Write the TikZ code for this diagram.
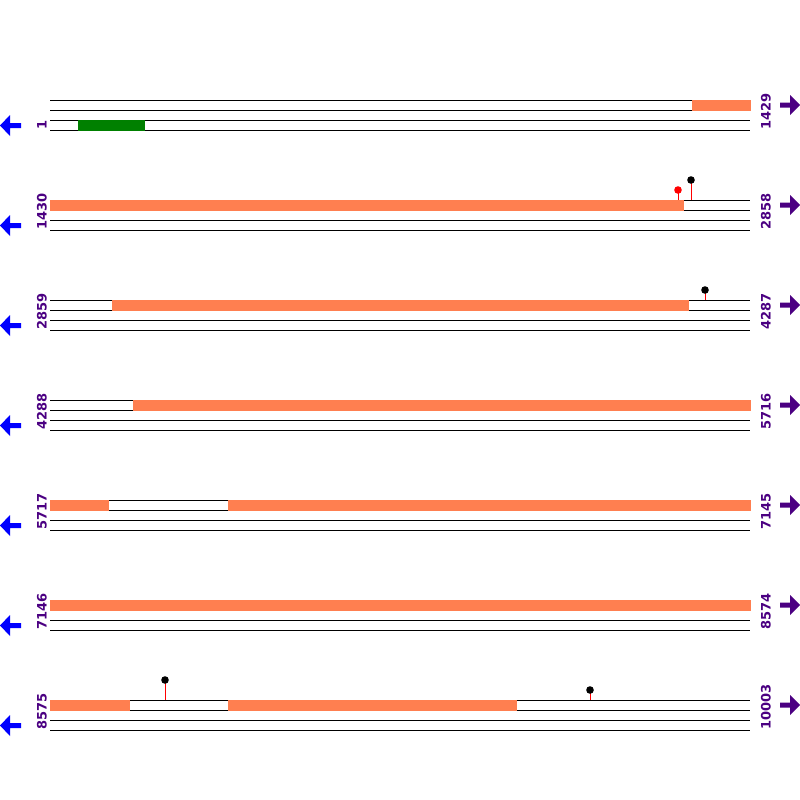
\documentclass[tikz,border=0pt]{standalone}
\usepackage{fontspec}
\setmainfont{DejaVu Sans}
\definecolor{coralc}{HTML}{FF7F50}
\definecolor{greenc}{HTML}{008000}
\definecolor{indigoc}{HTML}{4B0082}
\definecolor{bluec}{HTML}{0000FF}
\definecolor{redc}{HTML}{FF0000}
\tikzset{
  trackline/.style={draw=black,line width=1pt},
  feat/.style={fill=coralc},
  featg/.style={fill=greenc},
  poslabel/.style={rotate=90,anchor=base west,inner sep=0pt,text=indigoc,font=\fontsize{13}{13}\selectfont\bfseries},
  stick/.style={draw=redc,line width=1pt},
  headb/.style={fill=black},
  headr/.style={fill=redc},
  larrow/.style={fill=bluec},
  rarrow/.style={fill=indigoc}
}
\newcommand{\trackrow}[3]{%
  % #1 = top y, #2 = left label, #3 = right label
  \foreach \k in {0,10,20,30}{\draw[trackline] (50,#1+\k) -- (750,#1+\k);}
  \node[poslabel] (L#2) at (46.5,#1+30) {#2};
  \node[poslabel] (R#3) at (770.5,#1+30) {#3};
  \fill[larrow] (0,#1+25.5) -- (10,#1+15) -- (10,#1+23) -- (21,#1+23) -- (21,#1+28) -- (10,#1+28) -- (10,#1+36) -- cycle;
  \fill[rarrow] (800,#1+5) -- (790,#1-5) -- (790,#1+2.5) -- (780,#1+2.5) -- (780,#1+7.5) -- (790,#1+7.5) -- (790,#1+15) -- cycle;
}
\begin{document}
\begin{tikzpicture}[x=1pt,y=-1pt]
\useasboundingbox (0,0) rectangle (800,800);
\fill[white] (0,0) rectangle (800,800);
% row 1
\trackrow{100}{1}{1429}
\fill[feat] (692,99.5) rectangle (750.5,110.5);
\fill[featg] (78,119.5) rectangle (145,130.5);
% row 2
\trackrow{200}{1430}{2858}
\fill[feat] (49.5,199.5) rectangle (684,210.5);
\draw[stick] (691,200) -- (691,180);
\fill[headb] (691,180) circle (3.8);
\draw[stick] (678,200) -- (678,190);
\fill[headr] (678,190) circle (3.8);
% row 3
\trackrow{300}{2859}{4287}
\fill[feat] (112,299.5) rectangle (689,310.5);
\draw[stick] (705,300) -- (705,290);
\fill[headb] (705,290) circle (3.8);
% row 4
\trackrow{400}{4288}{5716}
\fill[feat] (133,399.5) rectangle (750.5,410.5);
% row 5
\trackrow{500}{5717}{7145}
\fill[feat] (49.5,499.5) rectangle (109,510.5);
\fill[feat] (228,499.5) rectangle (750.5,510.5);
% row 6
\trackrow{600}{7146}{8574}
\fill[feat] (49.5,599.5) rectangle (750.5,610.5);
% row 7
\trackrow{700}{8575}{10003}
\fill[feat] (49.5,699.5) rectangle (130,710.5);
\fill[feat] (228,699.5) rectangle (517,710.5);
\draw[stick] (165,700) -- (165,680);
\fill[headb] (165,680) circle (3.8);
\draw[stick] (590,700) -- (590,690);
\fill[headb] (590,690) circle (3.8);
\end{tikzpicture}
\end{document}
